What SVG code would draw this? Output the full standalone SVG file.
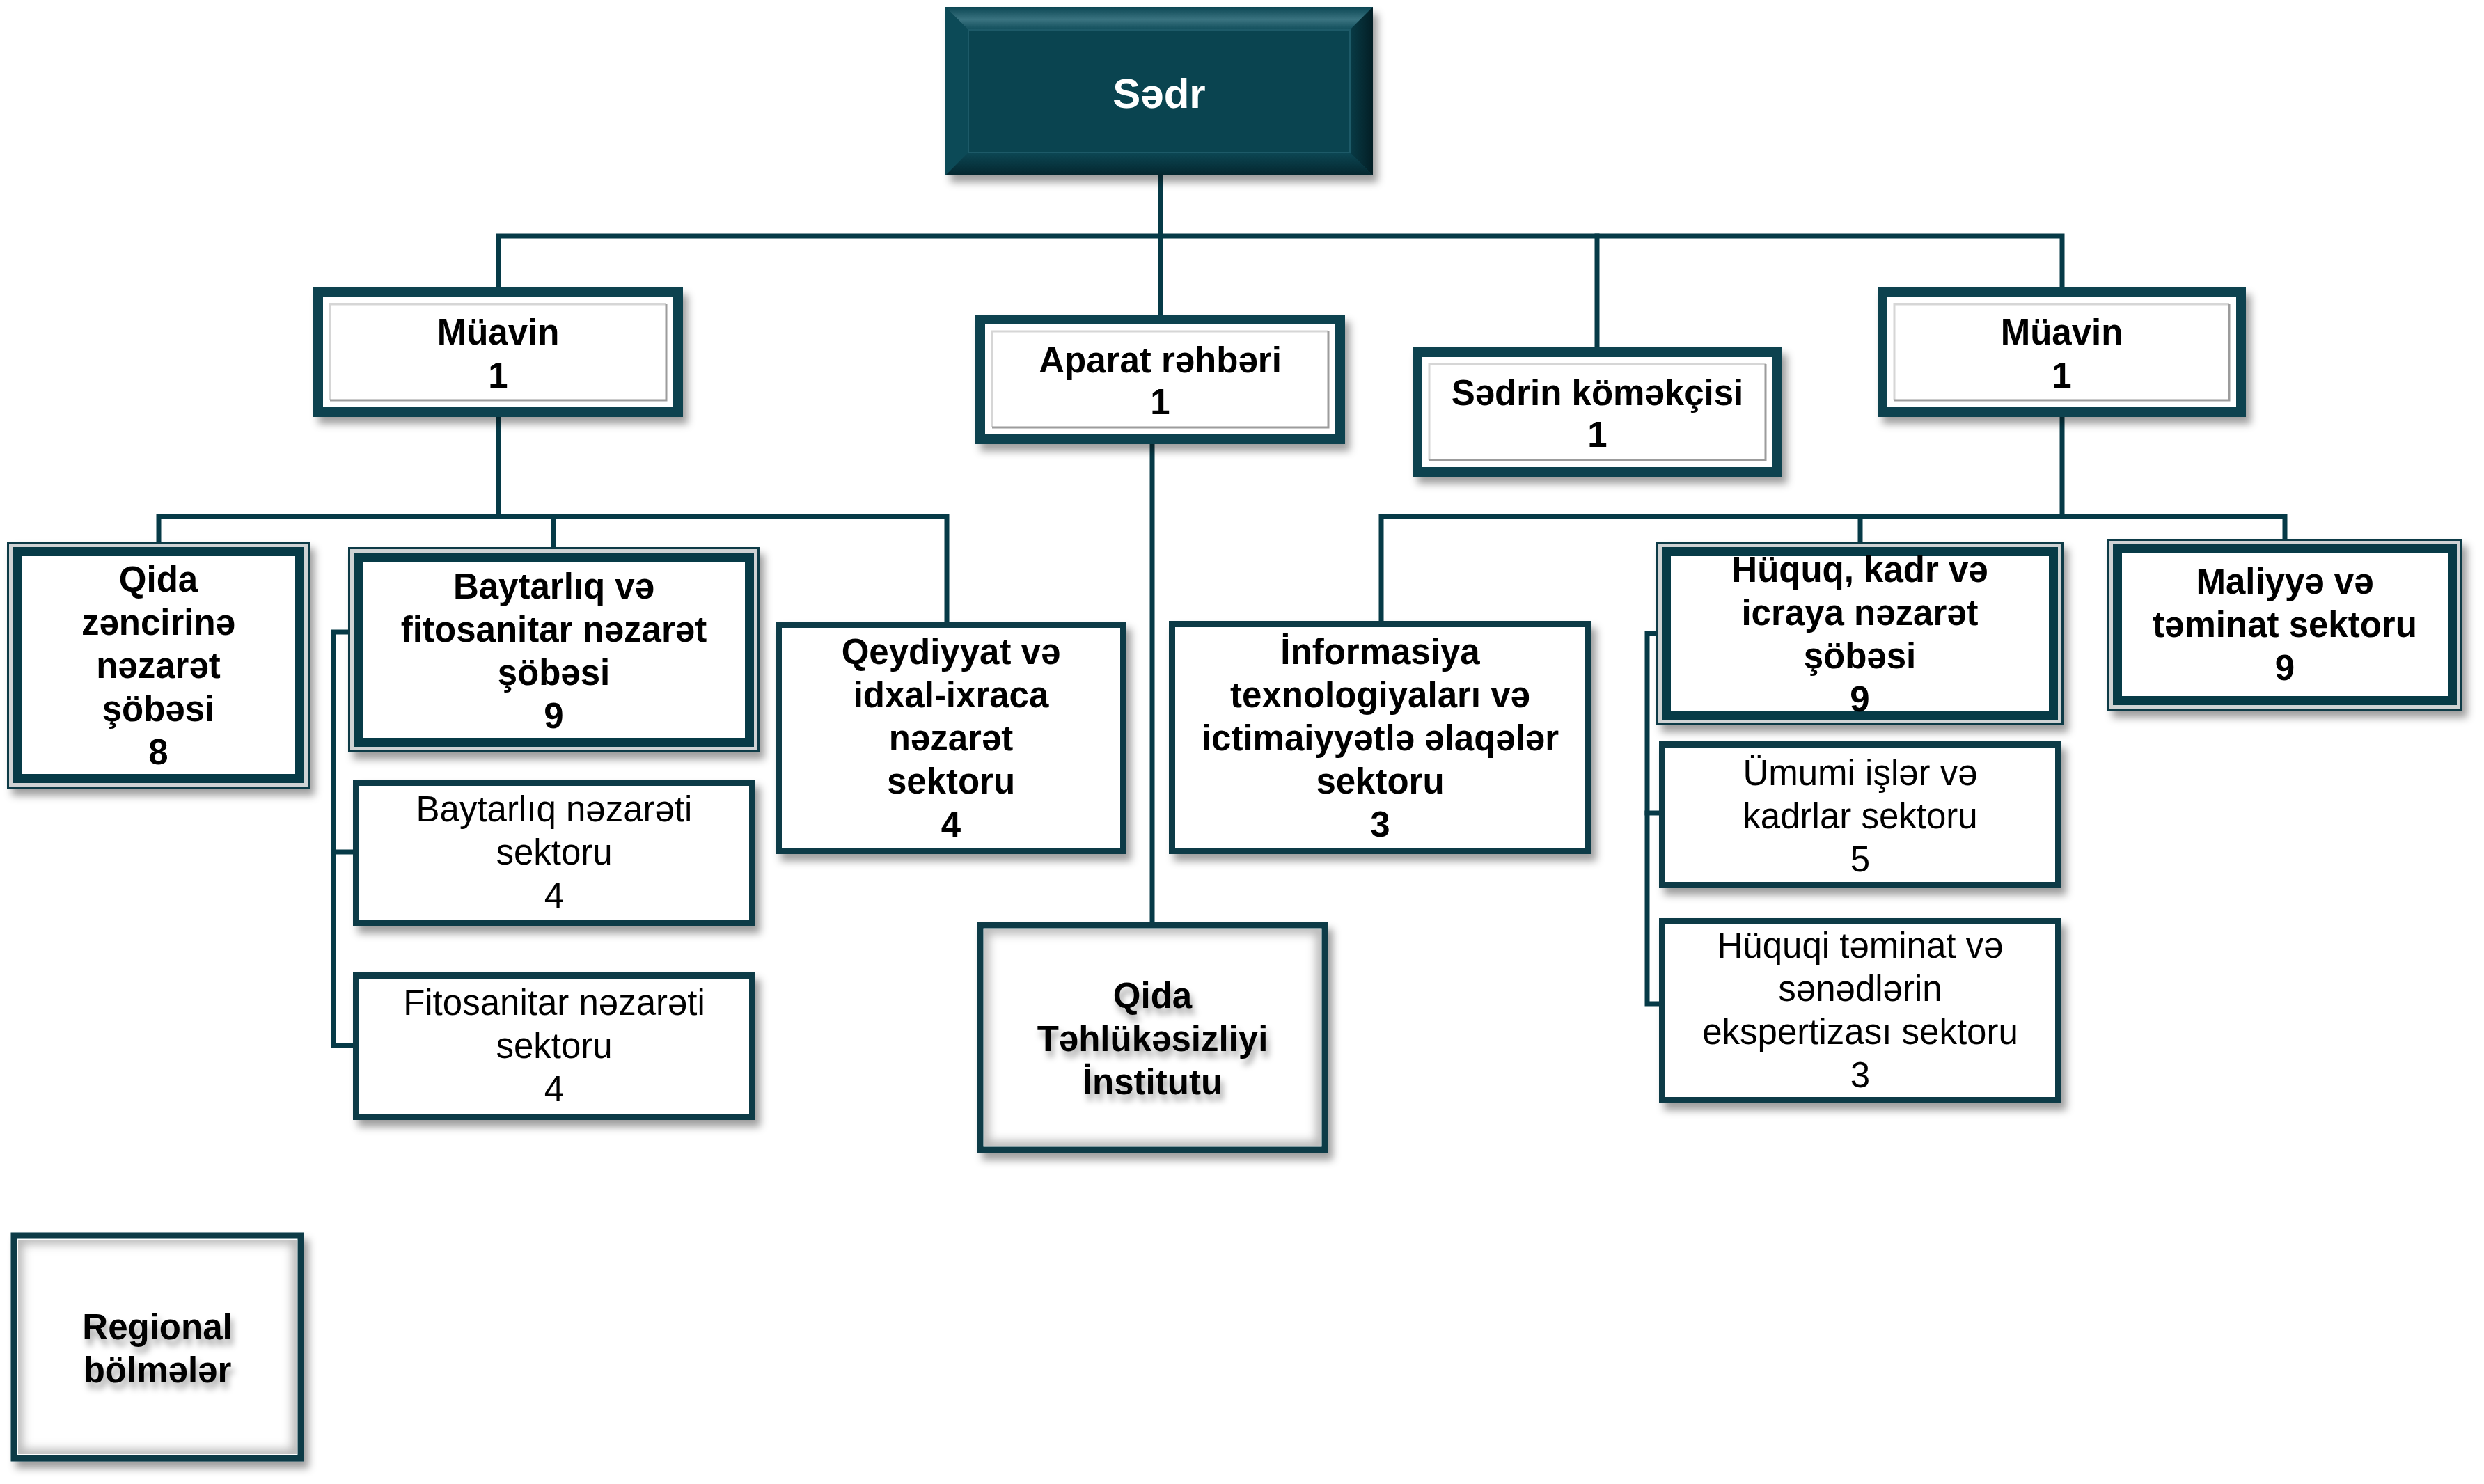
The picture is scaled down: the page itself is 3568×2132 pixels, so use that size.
<svg xmlns="http://www.w3.org/2000/svg" width="3568" height="2132" viewBox="0 0 3568 2132">
<style>
.b{font-family:"Liberation Sans",Arial,sans-serif;font-weight:bold;font-size:51px;text-anchor:middle;fill:#000}
.r{font-family:"Liberation Sans",Arial,sans-serif;font-size:51px;text-anchor:middle;fill:#000}
.w{font-family:"Liberation Sans",Arial,sans-serif;font-weight:bold;font-size:60px;text-anchor:middle;fill:#fff}
.ln{fill:none;stroke:#063a47;stroke-width:7;stroke-linecap:square}
.dk{fill:#0a4350}
.bd{fill:#073b47}
.lt{fill:#cfd3d4}
.wh{fill:#fff}
.fr{fill:none;stroke:#d6d6d6;stroke-width:3}
.frd{fill:none;stroke:#9c9c9c;stroke-width:3}
.sb{fill:#fff;stroke:#073b47;stroke-width:9}
.ig{fill:none;stroke:#b4b4b4;stroke-width:16}
</style>
<defs>
<filter id="sh" x="-10%" y="-10%" width="130%" height="140%"><feDropShadow dx="7" dy="10" stdDeviation="6" flood-color="#000" flood-opacity="0.38"/></filter>
<filter id="ts" x="-10%" y="-20%" width="130%" height="160%"><feDropShadow dx="4" dy="9" stdDeviation="5" flood-color="#000" flood-opacity="0.35"/></filter>
<filter id="bl" x="-10%" y="-10%" width="120%" height="120%"><feGaussianBlur stdDeviation="7"/></filter>
<linearGradient id="gt" x1="0" y1="0" x2="0" y2="1"><stop offset="0" stop-color="#0b4653"/><stop offset="0.55" stop-color="#3a7380"/><stop offset="1" stop-color="#104d5a"/></linearGradient>
<linearGradient id="gb" x1="0" y1="0" x2="0" y2="1"><stop offset="0" stop-color="#0c4754"/><stop offset="1" stop-color="#04262e"/></linearGradient>
<linearGradient id="gr" x1="0" y1="0" x2="1" y2="0"><stop offset="0" stop-color="#083b46"/><stop offset="1" stop-color="#031e25"/></linearGradient>
<clipPath id="c1"><rect x="1414" y="1335" width="483" height="311"/></clipPath>
<clipPath id="c2"><rect x="26" y="1781" width="400" height="308"/></clipPath>
</defs>
<rect width="3568" height="2132" fill="#fff"/>

<g id="connectors">
<path class="ln" d="M1667 252 V452"/>
<path class="ln" d="M716 413 V339 H2962 V413"/>
<path class="ln" d="M2294 339 V499"/>
<path class="ln" d="M716 599 V742"/>
<path class="ln" d="M228 778 V742 H1360 V893"/>
<path class="ln" d="M795 742 V786"/>
<path class="ln" d="M1655 638 V1324"/>
<path class="ln" d="M2962 599 V742"/>
<path class="ln" d="M1984 892 V742 H3282 V774"/>
<path class="ln" d="M2672 742 V778"/>
<path class="ln" d="M507 908 H479 V1502 H507"/>
<path class="ln" d="M479 1224 H507"/>
<path class="ln" d="M2383 910 H2366 V1442 H2383"/>
<path class="ln" d="M2366 1168 H2383"/>
</g>

<g id="sedr">
<rect x="1358" y="10" width="614" height="242" class="dk" filter="url(#sh)"/>
<polygon points="1358,10 1972,10 1939,43 1391,43" fill="url(#gt)"/>
<polygon points="1358,10 1391,43 1391,219 1358,252" fill="#0c4a57"/>
<polygon points="1972,10 1939,43 1939,219 1972,252" fill="url(#gr)"/>
<polygon points="1358,252 1391,219 1939,219 1972,252" fill="url(#gb)"/>
<rect x="1391" y="43" width="548" height="176" fill="#0a4450" stroke="#1d5a68" stroke-width="2"/>
<text x="1665" y="155" class="w">Sədr</text>
</g>

<g id="muavin-left">
<rect x="450" y="413" width="531" height="186" class="dk" filter="url(#sh)"/>
<rect x="464" y="427" width="503" height="158" class="wh"/>
<path class="fr" d="M474 575 V437 H957"/>
<path class="frd" d="M957 437 V575 H474"/>
<text x="715.5" y="495" class="b">Müavin</text>
<text x="715.5" y="557" class="b">1</text>
</g>

<g id="aparat">
<rect x="1401" y="452" width="531" height="186" class="dk" filter="url(#sh)"/>
<rect x="1415" y="466" width="503" height="158" class="wh"/>
<path class="fr" d="M1425 614 V476 H1908"/>
<path class="frd" d="M1908 476 V614 H1425"/>
<text x="1666.5" y="535" class="b">Aparat rəhbəri</text>
<text x="1666.5" y="595" class="b">1</text>
</g>

<g id="sedrin-komekcisi">
<rect x="2029" y="499" width="531" height="186" class="dk" filter="url(#sh)"/>
<rect x="2043" y="513" width="503" height="158" class="wh"/>
<path class="fr" d="M2053 661 V523 H2536"/>
<path class="frd" d="M2536 523 V661 H2053"/>
<text x="2294.5" y="582" class="b">Sədrin köməkçisi</text>
<text x="2294.5" y="642" class="b">1</text>
</g>

<g id="muavin-right">
<rect x="2697" y="413" width="529" height="186" class="dk" filter="url(#sh)"/>
<rect x="2711" y="427" width="501" height="158" class="wh"/>
<path class="fr" d="M2721 575 V437 H3202"/>
<path class="frd" d="M3202 437 V575 H2721"/>
<text x="2961.5" y="495" class="b">Müavin</text>
<text x="2961.5" y="557" class="b">1</text>
</g>

<g id="qida-zencirine">
<rect x="10" y="778" width="435" height="355" class="bd" filter="url(#sh)"/>
<rect x="13" y="781" width="429" height="349" class="lt"/>
<rect x="18" y="786" width="419" height="339" class="bd"/>
<rect x="31" y="799" width="393" height="313" class="wh"/>
<text x="227.5" y="850" class="b">Qida</text>
<text x="227.5" y="912" class="b">zəncirinə</text>
<text x="227.5" y="974" class="b">nəzarət</text>
<text x="227.5" y="1036" class="b">şöbəsi</text>
<text x="227.5" y="1098" class="b">8</text>
</g>

<g id="baytarliq-sobesi">
<rect x="500" y="786" width="591" height="295" class="bd" filter="url(#sh)"/>
<rect x="503" y="789" width="585" height="289" class="lt"/>
<rect x="508" y="794" width="575" height="279" class="bd"/>
<rect x="521" y="807" width="549" height="253" class="wh"/>
<text x="795.5" y="860" class="b">Baytarlıq və</text>
<text x="795.5" y="922" class="b">fitosanitar nəzarət</text>
<text x="795.5" y="984" class="b">şöbəsi</text>
<text x="795.5" y="1046" class="b">9</text>
</g>

<g id="baytarliq-sektoru">
<rect x="511.5" y="1124.5" width="569" height="202" class="sb" filter="url(#sh)"/>
<text x="796" y="1180" class="r">Baytarlıq nəzarəti</text>
<text x="796" y="1242" class="r">sektoru</text>
<text x="796" y="1304" class="r">4</text>
</g>

<g id="fitosanitar-sektoru">
<rect x="511.5" y="1401.5" width="569" height="203" class="sb" filter="url(#sh)"/>
<text x="796" y="1458" class="r">Fitosanitar nəzarəti</text>
<text x="796" y="1520" class="r">sektoru</text>
<text x="796" y="1582" class="r">4</text>
</g>

<g id="qeydiyyat">
<rect x="1118.5" y="897.5" width="495" height="325" class="sb" filter="url(#sh)"/>
<text x="1366" y="954" class="b">Qeydiyyat və</text>
<text x="1366" y="1016" class="b">idxal-ixraca</text>
<text x="1366" y="1078" class="b">nəzarət</text>
<text x="1366" y="1140" class="b">sektoru</text>
<text x="1366" y="1202" class="b">4</text>
</g>

<g id="qida-institutu">
<rect x="1408" y="1329" width="495" height="323" class="sb" filter="url(#sh)"/>
<rect x="1412.5" y="1333.5" width="486" height="314" class="ig" filter="url(#bl)" clip-path="url(#c1)"/>
<g filter="url(#ts)">
<text x="1655.5" y="1448" class="b">Qida</text>
<text x="1655.5" y="1510" class="b">Təhlükəsizliyi</text>
<text x="1655.5" y="1572" class="b">İnstitutu</text>
</g>
</g>

<g id="regional">
<rect x="20" y="1775" width="412" height="320" class="sb" filter="url(#sh)"/>
<rect x="24.5" y="1779.5" width="403" height="311" class="ig" filter="url(#bl)" clip-path="url(#c2)"/>
<g filter="url(#ts)">
<text x="226" y="1924" class="b">Regional</text>
<text x="226" y="1986" class="b">bölmələr</text>
</g>
</g>

<g id="informasiya">
<rect x="1683.5" y="896.5" width="598" height="326" class="sb" filter="url(#sh)"/>
<text x="1982.5" y="954" class="b">İnformasiya</text>
<text x="1982.5" y="1016" class="b">texnologiyaları və</text>
<text x="1982.5" y="1078" class="b">ictimaiyyətlə əlaqələr</text>
<text x="1982.5" y="1140" class="b">sektoru</text>
<text x="1982.5" y="1202" class="b">3</text>
</g>

<g id="huquq-sobesi">
<rect x="2379" y="778" width="585" height="264" class="bd" filter="url(#sh)"/>
<rect x="2382" y="781" width="579" height="258" class="lt"/>
<rect x="2387" y="786" width="569" height="248" class="bd"/>
<rect x="2400" y="799" width="543" height="222" class="wh"/>
<text x="2671.5" y="836" class="b">Hüquq, kadr və</text>
<text x="2671.5" y="898" class="b">icraya nəzarət</text>
<text x="2671.5" y="960" class="b">şöbəsi</text>
<text x="2671.5" y="1022" class="b">9</text>
</g>

<g id="umumi-isler">
<rect x="2387.5" y="1069.5" width="569" height="202" class="sb" filter="url(#sh)"/>
<text x="2672" y="1128" class="r">Ümumi işlər və</text>
<text x="2672" y="1190" class="r">kadrlar sektoru</text>
<text x="2672" y="1252" class="r">5</text>
</g>

<g id="huquqi-teminat">
<rect x="2387.5" y="1323.5" width="569" height="257" class="sb" filter="url(#sh)"/>
<text x="2672" y="1376" class="r">Hüquqi təminat və</text>
<text x="2672" y="1438" class="r">sənədlərin</text>
<text x="2672" y="1500" class="r">ekspertizası sektoru</text>
<text x="2672" y="1562" class="r">3</text>
</g>

<g id="maliyye">
<rect x="3027" y="774" width="510" height="247" class="bd" filter="url(#sh)"/>
<rect x="3030" y="777" width="504" height="241" class="lt"/>
<rect x="3035" y="782" width="494" height="231" class="bd"/>
<rect x="3048" y="795" width="468" height="205" class="wh"/>
<text x="3282" y="853" class="b">Maliyyə və</text>
<text x="3282" y="915" class="b">təminat sektoru</text>
<text x="3282" y="977" class="b">9</text>
</g>
</svg>
